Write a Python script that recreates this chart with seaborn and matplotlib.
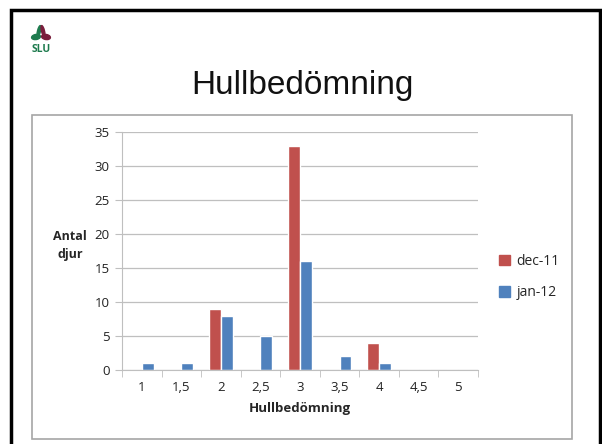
import pandas as pd
import matplotlib.pyplot as plt
import matplotlib.patches as mpatches
import seaborn as sns

# data
kategorier = ["1", "1,5", "2", "2,5", "3", "3,5", "4", "4,5", "5"]
dec_11 = [0, 0, 9, 0, 33, 0, 4, 0, 0]
jan_12 = [1, 1, 8, 5, 16, 2, 1, 0, 0]
serier = ["dec-11", "jan-12"]
farger = ["#C0504D", "#4F81BD"]

df = pd.DataFrame({
    "Hullbedömning": kategorier * 2,
    "Antal": dec_11 + jan_12,
    "Period": [serier[0]] * len(kategorier) + [serier[1]] * len(kategorier),
})

sns.set_style("white")
plt.rcParams["font.family"] = ["Open Sans", "DejaVu Sans"]

fig = plt.figure(figsize=(6.02, 4.44), dpi=100)
W, H = 602, 444

# slide frame and chart box
fig.patches.append(mpatches.Rectangle((11 / W, -0.05), (589) / W, (444 - 10) / H + 0.05,
                                      transform=fig.transFigure, fill=False,
                                      edgecolor="black", linewidth=2.5))
fig.patches.append(mpatches.Rectangle((32 / W, (444 - 439) / H), 540 / W, 324 / H,
                                      transform=fig.transFigure, fill=False,
                                      edgecolor="#A6A6A6", linewidth=1.2))

# SLU logo (simple)
fig.patches.append(mpatches.Ellipse((36 / W, (444 - 37) / H), 9 / W, 5 / H, angle=20,
                                    transform=fig.transFigure, color="#1E7B4E"))
fig.patches.append(mpatches.Ellipse((46 / W, (444 - 37) / H), 9 / W, 5 / H, angle=-20,
                                    transform=fig.transFigure, color="#7A1E3C"))
fig.patches.append(mpatches.Ellipse((39 / W, (444 - 31) / H), 3 / W, 11 / H, angle=-10,
                                    transform=fig.transFigure, color="#1E7B4E"))
fig.patches.append(mpatches.Ellipse((43 / W, (444 - 31) / H), 3 / W, 11 / H, angle=10,
                                    transform=fig.transFigure, color="#7A1E3C"))
fig.text(41 / W, (444 - 50) / H, "SLU", ha="center", va="center", fontsize=7.5,
         color="#1E7B4E", fontweight="bold")

fig.text(302 / W, (444 - 85) / H, "Hullbedömning", ha="center", va="center",
         fontsize=24, family="Liberation Sans", color="#111111")

ax = fig.add_axes([122 / W, 74 / H, 356 / W, 238 / H])
sns.barplot(data=df, x="Hullbedömning", y="Antal", hue="Period", palette=farger,
            width=0.6, ax=ax, saturation=1, legend=False)

ax.set_ylim(0, 35)
ax.set_yticks(range(0, 36, 5))
ax.set_xlim(-0.5, len(kategorier) - 0.5)
ax.yaxis.grid(True, color="#BFBFBF", linewidth=0.9)
ax.set_axisbelow(True)
for s in ["top", "right"]:
    ax.spines[s].set_visible(False)
ax.spines["left"].set_color("#BFBFBF")
ax.spines["bottom"].set_color("#BFBFBF")

ax.tick_params(axis="y", length=5, color="#BFBFBF", labelsize=9.5, pad=4,
               left=True, labelcolor="#222222")
ax.set_xticks(range(len(kategorier)))
ax.set_xticklabels(kategorier)
ax.tick_params(axis="x", length=0, labelsize=9.5, pad=8, labelcolor="#222222")
ax.set_xticks([i - 0.5 for i in range(len(kategorier) + 1)], minor=True)
ax.tick_params(axis="x", which="minor", length=5, color="#BFBFBF", bottom=True)

ax.set_xlabel("Hullbedömning", fontsize=9.5, fontweight="bold", labelpad=6)
ax.set_ylabel("")
fig.text(70 / W, (444 - 245) / H, "Antal\ndjur", ha="center", va="center",
         fontsize=9, fontweight="bold", linespacing=1.5)

handles = [mpatches.Patch(color=c, label=s) for c, s in zip(farger, serier)]
fig.legend(handles=handles, loc="center left", bbox_to_anchor=(486 / W, (444 - 277) / H),
           frameon=False, fontsize=10, handlelength=0.8, handleheight=0.8,
           handletextpad=0.5, labelspacing=1.2)

fig.savefig("out.png", dpi=100)
